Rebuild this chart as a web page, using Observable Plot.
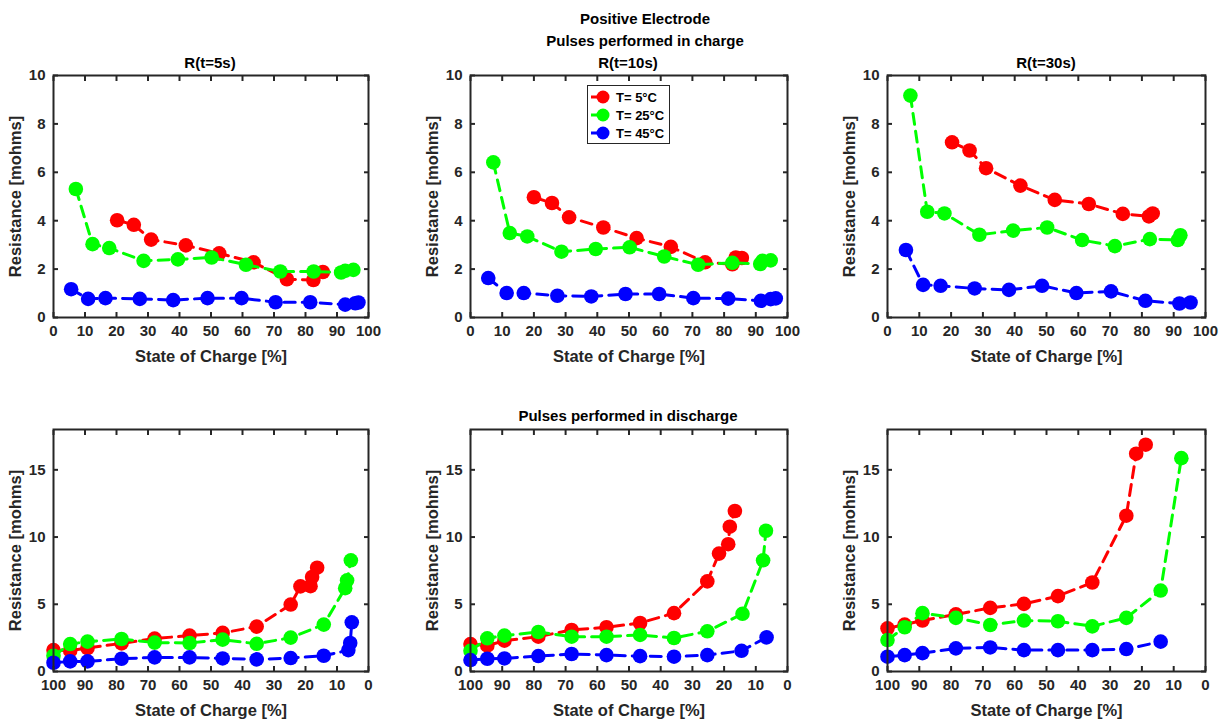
<!DOCTYPE html>
<html><head><meta charset="utf-8">
<script src="https://cdn.jsdelivr.net/npm/d3@7"></script>
<script src="https://cdn.jsdelivr.net/npm/@observablehq/plot@0.6"></script>
<style>
body{margin:0;background:#fff;font-family:"Liberation Sans",Arial,sans-serif;}
#root{position:relative;width:1222px;height:720px;overflow:hidden;background:#fff;}
.t{position:absolute;font-weight:bold;font-size:15px;color:#000;transform:translate(-50%,-50%);white-space:nowrap;}
.p{position:absolute;}
#legend{position:absolute;left:587px;top:85px;width:81px;height:57px;border:1px solid #262626;background:#fff;z-index:5;}
#legend .row{position:absolute;left:0;height:18px;display:flex;align-items:center;font-weight:bold;font-size:13px;color:#000;}
g[aria-label="x-axis label"] text, g[aria-label="y-axis label"] text{font-size:16.5px;}
</style></head><body><div id="root"></div>
<script>
// ---------- data ----------
const seriesNames = ["T= 5°C", "T= 25°C", "T= 45°C"];
const socTicksCharge = [0, 10, 20, 30, 40, 50, 60, 70, 80, 90, 100];
const socTicksDischarge = [100, 90, 80, 70, 60, 50, 40, 30, 20, 10, 0];
const rTicksCharge = [0, 2, 4, 6, 8, 10];
const rTicksDischarge = [0, 5, 10, 15];

// Charge pulses, R(t=5s): [SOC %, R mohm]
const ch5_T5  = [[20.2,4.02],[25.5,3.83],[31.0,3.22],[42.0,2.98],[52.6,2.65],[63.5,2.28],[74.1,1.58],[82.5,1.55],[85.5,1.88]];
const ch5_T25 = [[7.1,5.31],[12.4,3.03],[17.7,2.87],[28.6,2.34],[39.5,2.40],[50.2,2.48],[61.1,2.18],[72.0,1.90],[82.6,1.90],[91.3,1.86],[92.6,1.93],[95.2,1.97]];
const ch5_T45 = [[5.6,1.17],[11.0,0.77],[16.5,0.80],[27.4,0.77],[38.0,0.72],[48.9,0.80],[59.7,0.80],[70.5,0.63],[81.5,0.63],[92.6,0.53],[95.8,0.59],[96.8,0.62]];
// Charge pulses, R(t=10s)
const ch10_T5  = [[20.0,4.97],[25.7,4.73],[31.1,4.14],[41.9,3.72],[52.4,3.28],[63.2,2.92],[74.0,2.28],[82.6,2.20],[83.7,2.48],[85.6,2.46]];
const ch10_T25 = [[7.2,6.41],[12.4,3.49],[17.9,3.35],[28.7,2.72],[39.5,2.83],[50.2,2.90],[61.1,2.52],[71.8,2.18],[82.6,2.26],[91.4,2.21],[92.1,2.34],[94.7,2.36]];
const ch10_T45 = [[5.6,1.63],[11.4,1.01],[16.8,1.01],[27.4,0.90],[38.1,0.87],[48.9,0.97],[59.5,0.97],[70.3,0.80],[81.3,0.78],[91.6,0.69],[94.7,0.76],[96.3,0.79]];
// Charge pulses, R(t=30s)
const ch30_T5  = [[20.3,7.24],[25.8,6.90],[31.0,6.17],[41.8,5.45],[52.6,4.86],[63.3,4.69],[74.0,4.28],[82.2,4.18],[83.4,4.30]];
const ch30_T25 = [[7.2,9.17],[12.5,4.37],[17.9,4.30],[28.9,3.42],[39.5,3.59],[50.2,3.72],[61.2,3.20],[71.5,2.95],[82.5,3.24],[91.3,3.20],[92.1,3.40]];
const ch30_T45 = [[5.8,2.79],[11.2,1.35],[16.7,1.31],[27.4,1.20],[38.2,1.14],[48.6,1.31],[59.4,1.01],[70.3,1.08],[81.1,0.69],[91.8,0.58],[95.3,0.62]];
// Discharge pulses, R(t=5s)
const dis5_T5  = [[100,1.59],[94.7,1.55],[89.2,1.75],[78.4,2.09],[67.9,2.45],[56.8,2.67],[46.3,2.87],[35.5,3.34],[24.7,4.98],[21.6,6.33],[18.4,6.35],[17.9,7.03],[16.3,7.72]];
const dis5_T25 = [[100,1.17],[94.7,2.04],[89.2,2.22],[78.4,2.42],[67.9,2.15],[56.8,2.12],[46.3,2.37],[35.5,2.06],[24.7,2.52],[14.2,3.49],[7.4,6.20],[6.8,6.78],[5.6,8.27]];
const dis5_T45 = [[100,0.65],[94.7,0.75],[89.2,0.75],[78.4,0.95],[67.9,1.05],[56.8,1.05],[46.3,0.97],[35.5,0.90],[24.7,1.00],[14.2,1.17],[6.4,1.59],[5.8,2.12],[5.3,3.66]];
// Discharge pulses, R(t=10s)
const dis10_T5  = [[100,2.04],[94.7,1.92],[89.3,2.29],[78.6,2.59],[68.1,3.09],[57.1,3.29],[46.5,3.61],[35.8,4.34],[25.3,6.70],[21.6,8.77],[18.7,9.47],[18.2,10.77],[16.6,11.94]];
const dis10_T25 = [[100,1.54],[94.7,2.47],[89.3,2.67],[78.6,2.94],[68.1,2.59],[57.1,2.59],[46.5,2.72],[35.8,2.49],[25.3,2.99],[14.2,4.29],[7.7,8.27],[6.8,10.47]];
const dis10_T45 = [[100,0.85],[94.7,0.95],[89.3,0.97],[78.6,1.15],[68.1,1.30],[57.1,1.22],[46.5,1.14],[35.8,1.10],[25.3,1.22],[14.5,1.54],[6.6,2.54]];
// Discharge pulses, R(t=30s)
const dis30_T5  = [[100,3.21],[94.6,3.49],[89.0,3.79],[78.5,4.25],[67.7,4.73],[57.1,5.03],[46.4,5.61],[35.6,6.62],[24.9,11.59],[21.8,16.20],[18.8,16.87]];
const dis30_T25 = [[100,2.34],[94.6,3.29],[89.0,4.34],[78.5,3.99],[67.7,3.46],[57.1,3.79],[46.4,3.74],[35.6,3.36],[24.9,3.99],[14.1,6.02],[7.6,15.87]];
const dis30_T45 = [[100,1.10],[94.6,1.22],[89.0,1.37],[78.5,1.72],[67.7,1.79],[57.1,1.59],[46.4,1.59],[35.6,1.59],[24.9,1.67],[14.1,2.22]];

// ---------- styling ----------
const colors = ["#ff0000", "#00ff00", "#0000ff"];
const ink = "#262626";
const root = document.getElementById("root");

function addText(txt, x, y) {
  const d = document.createElement("div");
  d.className = "t"; d.textContent = txt;
  d.style.left = x + "px"; d.style.top = y + "px";
  root.appendChild(d);
}

function panel({series, left, top, width, height, mL, mR, mT, mB, xDomain, xTicks, yDomain, yTicks}) {
  const marks = [];
  series.forEach((s, i) => {
    marks.push(Plot.line(s, {x: d => d[0], y: d => d[1], stroke: colors[i], strokeWidth: 3, strokeDasharray: "11,7"}));
    marks.push(Plot.dot(s, {x: d => d[0], y: d => d[1], r: 7.3, fill: colors[i], stroke: "none"}));
  });
  marks.push(
    Plot.axisX({ticks: xTicks, tickSize: -5, tickPadding: 13, strokeWidth: 2, stroke: ink,
      label: "State of Charge [%]", labelAnchor: "center", labelOffset: 44, labelArrow: "none"}),
    Plot.axisX({anchor: "top", ticks: xTicks, tickSize: -5, tickFormat: () => "", label: null, strokeWidth: 2, stroke: ink}),
    Plot.axisY({ticks: yTicks, tickSize: -5, tickPadding: 13, strokeWidth: 2, stroke: ink,
      label: "Resistance [mohms]", labelAnchor: "center", labelOffset: 44, labelArrow: "none"}),
    Plot.axisY({anchor: "right", ticks: yTicks, tickSize: -5, tickFormat: () => "", label: null, strokeWidth: 2, stroke: ink}),
    Plot.frame({stroke: ink, strokeWidth: 2})
  );
  const svg = Plot.plot({
    width, height,
    marginLeft: mL, marginRight: mR, marginTop: mT, marginBottom: mB,
    x: {domain: xDomain, ticks: xTicks},
    y: {domain: yDomain, ticks: yTicks},
    style: {fontFamily: '"Liberation Sans", Arial, sans-serif', fontSize: "15px", fontWeight: "bold", color: ink, background: "transparent", overflow: "visible"},
    marks
  });
  const wrap = document.createElement("div");
  wrap.className = "p";
  wrap.style.left = left + "px"; wrap.style.top = top + "px";
  wrap.appendChild(svg);
  root.appendChild(wrap);
}

const topRow = {top: 60, width: 400, height: 300, mT: 15, mB: 43, xDomain: [0, 100], xTicks: socTicksCharge, yDomain: [0, 10], yTicks: rTicksCharge};
const botRow = {top: 400, width: 400, height: 320, mT: 29, mB: 49, xDomain: [100, 0], xTicks: socTicksDischarge, yDomain: [0, 18], yTicks: rTicksDischarge};
const cols = [{left: 0, mL: 53, mR: 32}, {left: 410, mL: 60, mR: 23}, {left: 820, mL: 67, mR: 15}];

panel({...topRow, ...cols[0], series: [ch5_T5, ch5_T25, ch5_T45]});
panel({...topRow, ...cols[1], series: [ch10_T5, ch10_T25, ch10_T45]});
panel({...topRow, ...cols[2], series: [ch30_T5, ch30_T25, ch30_T45]});
panel({...botRow, ...cols[0], series: [dis5_T5, dis5_T25, dis5_T45]});
panel({...botRow, ...cols[1], series: [dis10_T5, dis10_T25, dis10_T45]});
panel({...botRow, ...cols[2], series: [dis30_T5, dis30_T25, dis30_T45]});

addText("Positive Electrode", 645, 18);
addText("Pulses performed in charge", 645, 40);
addText("R(t=5s)", 210, 62);
addText("R(t=10s)", 628, 62);
addText("R(t=30s)", 1046, 62);
addText("Pulses performed in discharge", 628, 415);

// legend
const lg = document.createElement("div");
lg.id = "legend";
seriesNames.forEach((name, i) => {
  const row = document.createElement("div");
  row.className = "row";
  row.style.top = (2 + i * 18) + "px";
  row.innerHTML = `<svg width="26" height="18" style="margin-left:1px"><line x1="2" y1="9" x2="14" y2="9" stroke="${colors[i]}" stroke-width="3"/><circle cx="14" cy="9" r="6.5" fill="${colors[i]}"/></svg><span style="margin-left:1px">${name}</span>`;
  lg.appendChild(row);
});
root.appendChild(lg);
</script>
</body></html>
